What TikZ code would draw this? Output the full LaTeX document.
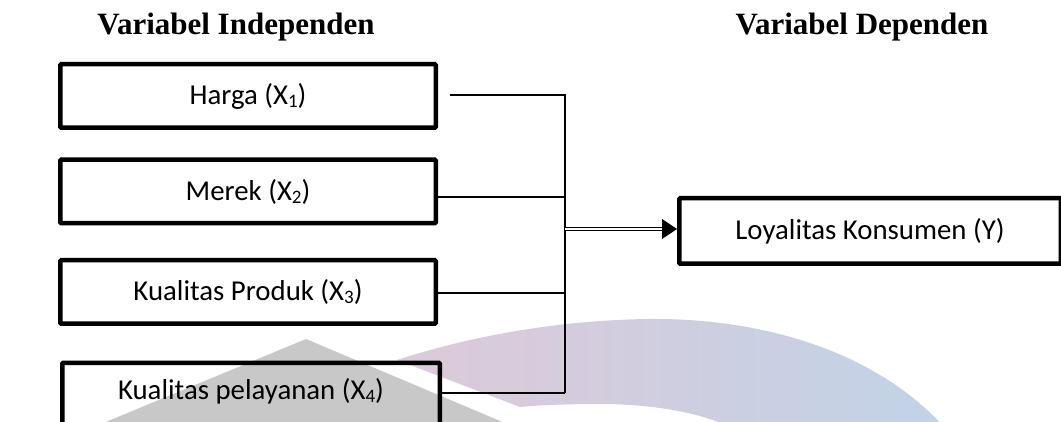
\documentclass[tikz,border=0pt]{standalone}
\usepackage{fontspec}
\setmainfont{Carlito}
\newfontfamily\titlefont{Liberation Serif}
\usetikzlibrary{arrows.meta}
\definecolor{wmgray}{HTML}{C8C8C8}
\definecolor{wmpink}{HTML}{DDC9D9}
\definecolor{wmblue}{HTML}{C1D3E7}
\newcommand{\subidx}[1]{\raisebox{-0.12em}{\fontsize{19}{19}\selectfont #1}}
\tikzset{
  varbox/.style={draw, line width=4.5pt, rounded corners=1pt, inner sep=0pt,
    minimum height=63.5pt, font=\fontsize{28.8}{32}\selectfont},
  heading/.style={anchor=base, font=\titlefont\bfseries\fontsize{31}{36}\selectfont},
  conn/.style={line width=1.3pt},
  dblconn/.style={line width=1.3pt, double, double distance=1.4pt},
  tipfill/.style={fill=black}
}
\begin{document}
\begin{tikzpicture}[x=1pt,y=-1pt]
\useasboundingbox (0,0) rectangle (1061,422);
\clip (0,0) rectangle (1061,422);
% watermark
\fill[wmgray] (306,339) -- (512,426) -- (96,426) -- cycle;
\shade[left color=wmpink, middle color=wmblue, right color=wmblue]
  (397,360) .. controls (470,336) and (560,320) .. (650,319)
  .. controls (760,318) and (875,350) .. (945,428)
  -- (732,428) .. controls (700,412) and (650,404) .. (600,404)
  .. controls (570,404) and (540,405) .. (520,407) -- cycle;
% headings
\node[heading] (t1) at (236,35) {Variabel Independen};
\node[heading] (t2) at (862,35) {Variabel Dependen};
% boxes
\node[varbox, minimum width=375.5pt] (b1) at (248,96) {Harga (X\subidx{1})};
\node[varbox, minimum width=375.5pt] (b2) at (248,191.5) {Merek (X\subidx{2})};
\node[varbox, minimum width=375.5pt] (b3) at (248,292) {Kualitas Produk (X\subidx{3})};
\node[varbox, minimum width=377.5pt, text depth=8pt, text height=22pt] (b4) at (251,394.5) {\raisebox{2pt}{Kualitas pelayanan (X\subidx{4})}};
\node[varbox, minimum width=381.5pt, minimum height=65.5pt] (ly) at (870,231) {Loyalitas Konsumen (Y)};
% junction coordinates
\coordinate (hs) at (450,95);
\coordinate (j1) at (565,95);
\coordinate (j2) at (565,197);
\coordinate (j3) at (565,293);
\coordinate (j4) at (565,393);
\coordinate (ja) at (565,229);
% connectors
\draw[conn] (hs) -- (j1) -- (j4);
\draw[conn] (j2 -| b2.east) -- (j2);
\draw[conn] (j3 -| b3.east) -- (j3);
\draw[conn] (j4 -| b4.east) -- (j4);
\draw[dblconn, shorten >=14pt] (ja) -- (ja -| ly.west);
\fill[tipfill] (ja -| ly.west) -- ++(-15,-10) -- ++(0,20) -- cycle;
\end{tikzpicture}
\end{document}
